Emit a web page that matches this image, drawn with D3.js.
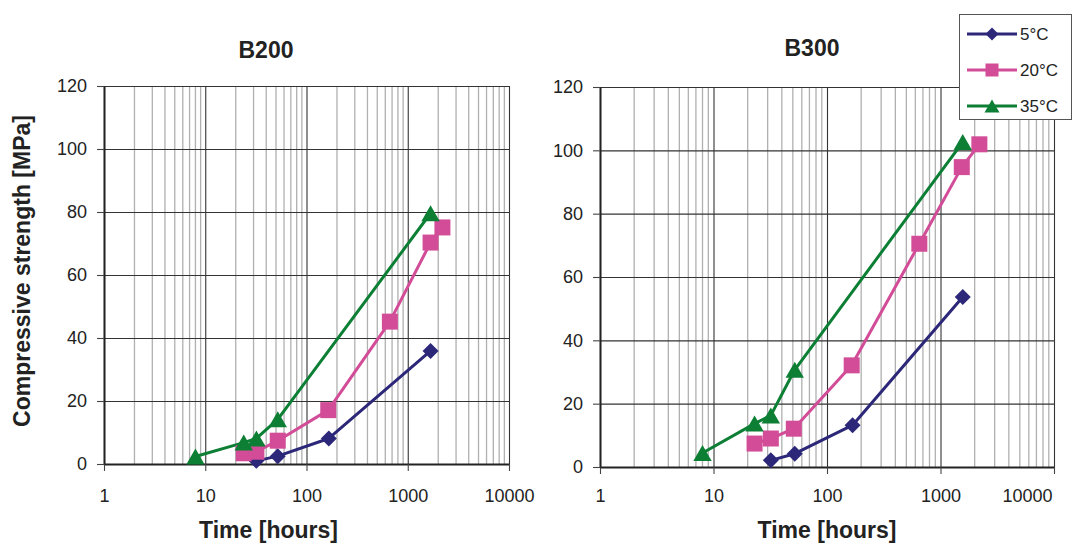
<!DOCTYPE html>
<html>
<head>
<meta charset="utf-8">
<script src="https://cdn.jsdelivr.net/npm/d3@7"></script>
<style>
body { margin: 0; background: #fff; }
svg { display: block; font-family: "Liberation Sans", Arial, sans-serif; }
</style>
</head>
<body>
<svg id="chart" width="1077" height="543"></svg>
<script>
// series names + tick values
var seriesNames = ["5°C", "20°C", "35°C"];
var xTicks = [1, 10, 100, 1000, 10000];
var yTicks = [0, 20, 40, 60, 80, 100, 120];

// B200 readings (hours, MPa)
var b200Hours5 = [32, 52, 166, 1680];
var b200Mpa5 = [1.0, 2.5, 8.1, 35.9];
var b200Hours20 = [24, 32, 52, 164, 666, 1680, 2200];
var b200Mpa20 = [3.4, 3.9, 7.4, 17.1, 45.2, 70.3, 75.1];
var b200Hours35 = [8, 24, 32, 52, 1680];
var b200Mpa35 = [2.4, 6.8, 8.1, 14.2, 79.6];

// B300 readings (hours, MPa)
var b300Hours5 = [32, 52, 168, 1570];
var b300Mpa5 = [2.1, 4.2, 13.2, 53.7];
var b300Hours20 = [23, 32, 51, 165, 651, 1540, 2200];
var b300Mpa20 = [7.4, 9.0, 12.1, 32.1, 70.5, 94.7, 101.9];
var b300Hours35 = [8, 23, 32, 52, 1570];
var b300Mpa35 = [4.4, 13.7, 16.3, 30.7, 102.6];

var colors = ["#2c2778", "#d24c97", "#0c7f35"],
  textColor = "#222",
  tickFont = 18,
  labelBaseline = 502;

var markerPath = function(shape, s) {
  // s = half size of marker
  if (shape === 0) {
    return "M0," + (-s) + "L" + s + ",0L0," + s + "L" + (-s) + ",0Z";
  }
  if (shape === 1) {
    return "M" + (-s) + "," + (-s) + "H" + s + "V" + s + "H" + (-s) + "Z";
  }
  return "M0," + (-s) + "L" + (s * 1.15) + "," + s + "L" + (-s * 1.15) + "," + s + "Z";
};

var zip = function(hours, mpa) {
  return hours.map(function(h, i) { return [h, mpa[i]]; });
};

var drawChart = function(svg, sett) {
  var x = d3.scaleLog().domain([1, 10000]).range([sett.left, sett.right]),
    y = d3.scaleLinear().domain([0, 120]).range([sett.bottom, sett.top]),
    g = svg.append("g").attr("class", "chart"),
    minorTicks = x.ticks().filter(function(t) { return xTicks.indexOf(t) < 0; }),
    line = d3.line()
      .x(function(d) { return x(d[0]); })
      .y(function(d) { return y(d[1]); }),
    xPad = labelBaseline - 0.71 * tickFont - sett.bottom - 7,
    xAxis, yAxis;

  // minor log grid
  g.append("g")
    .attr("class", "minor-grid")
    .selectAll("line")
    .data(minorTicks)
    .enter()
    .append("line")
      .attr("x1", function(d) { return x(d); })
      .attr("x2", function(d) { return x(d); })
      .attr("y1", sett.top)
      .attr("y2", sett.bottom)
      .attr("stroke", "#b0b0b0")
      .attr("stroke-width", 1.3);

  // major grid
  g.append("g")
    .attr("transform", "translate(0," + sett.bottom + ")")
    .call(d3.axisBottom(x).tickValues(xTicks).tickSize(-(sett.bottom - sett.top)).tickFormat(""))
    .call(function(s) {
      s.select(".domain").remove();
      s.selectAll("line").attr("stroke", "#333").attr("stroke-width", 1.1);
    });
  g.append("g")
    .attr("transform", "translate(" + sett.left + ",0)")
    .call(d3.axisLeft(y).tickValues(yTicks).tickSize(-(sett.right - sett.left)).tickFormat(""))
    .call(function(s) {
      s.select(".domain").remove();
      s.selectAll("line").attr("stroke", "#333").attr("stroke-width", 1.1);
    });

  // axes with outward ticks
  xAxis = g.append("g")
    .attr("transform", "translate(0," + sett.bottom + ")")
    .call(d3.axisBottom(x).tickValues(xTicks).tickFormat(d3.format("d")).tickSize(7).tickPadding(xPad).tickSizeOuter(0));
  yAxis = g.append("g")
    .attr("transform", "translate(" + sett.left + ",0)")
    .call(d3.axisLeft(y).tickValues(yTicks).tickSize(7).tickPadding(10).tickSizeOuter(0));

  [xAxis, yAxis].forEach(function(a) {
    a.attr("font-family", null).attr("font-size", tickFont);
    a.select(".domain").attr("stroke", "#222").attr("stroke-width", 2);
    a.selectAll(".tick line").attr("stroke", "#444").attr("stroke-width", 1.1);
    a.selectAll("text").attr("fill", textColor).style("font-size", tickFont + "px");
  });

  // last label pulled in when it would run off the page
  if (sett.lastLabelEnd) {
    xAxis.selectAll(".tick text")
      .filter(function(d) { return d === 10000; })
      .attr("text-anchor", "end")
      .attr("x", -2);
  }

  // title
  svg.append("text")
    .attr("x", sett.titleX)
    .attr("y", sett.titleY)
    .attr("text-anchor", "middle")
    .attr("fill", textColor)
    .style("font-size", "23px")
    .style("font-weight", "bold")
    .text(sett.title);

  svg.append("text")
    .attr("x", (sett.left + sett.right) / 2 + sett.xTitleShift)
    .attr("y", 538)
    .attr("text-anchor", "middle")
    .attr("fill", textColor)
    .style("font-size", "23px")
    .style("font-weight", "bold")
    .text("Time [hours]");

  // series
  sett.data.forEach(function(pts, i) {
    g.append("path")
      .datum(pts)
      .attr("d", line)
      .attr("fill", "none")
      .attr("stroke", colors[i])
      .attr("stroke-width", 3)
      .attr("stroke-linejoin", "round");
  });
  sett.data.forEach(function(pts, i) {
    g.append("g")
      .selectAll("path")
      .data(pts)
      .enter()
      .append("path")
        .attr("transform", function(d) { return "translate(" + x(d[0]) + "," + y(d[1]) + ")"; })
        .attr("d", markerPath(i, 8))
        .attr("fill", colors[i]);
  });
};

var svg = d3.select("#chart");

drawChart(svg, {
  title: "B200",
  titleX: 266,
  titleY: 58,
  xTitleShift: -38,
  left: 104, right: 509, top: 86, bottom: 464,
  data: [zip(b200Hours5, b200Mpa5), zip(b200Hours20, b200Mpa20), zip(b200Hours35, b200Mpa35)]
});

drawChart(svg, {
  title: "B300",
  titleX: 812,
  titleY: 56,
  xTitleShift: 0,
  lastLabelEnd: true,
  left: 600, right: 1054, top: 87, bottom: 467,
  data: [zip(b300Hours5, b300Mpa5), zip(b300Hours20, b300Mpa20), zip(b300Hours35, b300Mpa35)]
});

// y axis title (shared)
svg.append("text")
  .attr("transform", "translate(30,271) rotate(-90)")
  .attr("text-anchor", "middle")
  .attr("fill", textColor)
  .style("font-size", "23px")
  .style("font-weight", "bold")
  .text("Compressive strength [MPa]");

// legend
var legend = svg.append("g").attr("class", "legend");
legend.append("rect")
  .attr("x", 959.5).attr("y", 14.5)
  .attr("width", 112).attr("height", 105)
  .attr("fill", "#fff")
  .attr("stroke", "#555")
  .attr("stroke-width", 1);

var item = legend.selectAll("g.item")
  .data(seriesNames)
  .enter()
  .append("g")
    .attr("class", "item")
    .attr("transform", function(d, i) { return "translate(0," + (34 + i * 36) + ")"; });

item.append("line")
  .attr("x1", 967).attr("x2", 1017)
  .attr("stroke", function(d, i) { return colors[i]; })
  .attr("stroke-width", 3);
item.append("path")
  .attr("transform", "translate(992,0)")
  .attr("d", function(d, i) { return markerPath(i, 6.5); })
  .attr("fill", function(d, i) { return colors[i]; });
item.append("text")
  .attr("x", 1020)
  .attr("dy", "0.35em")
  .attr("fill", textColor)
  .style("font-size", "17px")
  .text(function(d) { return d; });
</script>
</body>
</html>
